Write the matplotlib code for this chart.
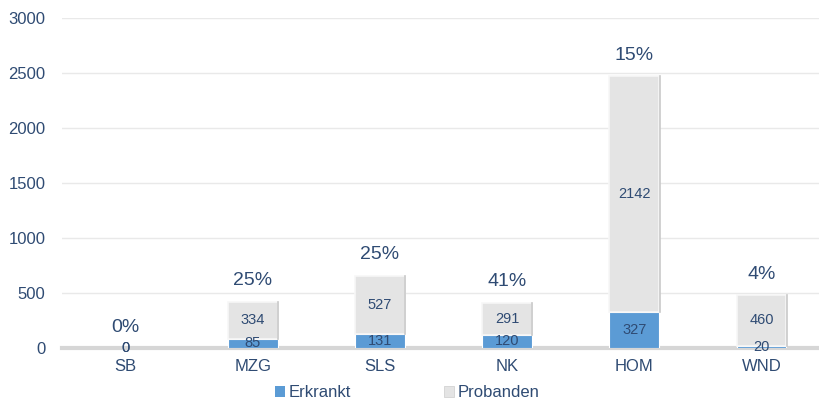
import numpy as np
from matplotlib import pyplot as plt
from matplotlib.patches import Patch

plt.rcParams["font.family"] = ["Liberation Sans", "DejaVu Sans"]

categories = ["SB", "MZG", "SLS", "NK", "HOM", "WND"]
erkrankt = [0, 85, 131, 120, 327, 20]
probanden = [0, 334, 527, 291, 2142, 460]
percent_labels = ["0%", "25%", "25%", "41%", "15%", "4%"]

TEXT = "#2f4b73"
BLUE = "#5b9bd5"
GRAY = "#e4e4e4"

fig = plt.figure(figsize=(8.2, 4.05), dpi=100)
ax = fig.add_axes([62 / 820, 57 / 405, 763 / 820, 330 / 405])

x = np.arange(len(categories))
width = 0.39

blue_bars = ax.bar(x, erkrankt, width, color=BLUE, edgecolor="white", linewidth=0.8, zorder=2)
gray_bars = ax.bar(x, probanden, width, bottom=erkrankt, color=GRAY, edgecolor="#f7f7f7",
                   linewidth=1.2, zorder=2)
# hide empty bars so no edge lines show at zero
for bar, v in zip(list(blue_bars) + list(gray_bars), erkrankt + probanden):
    if v == 0:
        bar.set_visible(False)
# faint shadow on the right edge of the grey segments
for xi, e, p in zip(x, erkrankt, probanden):
    if p > 0:
        ax.plot([xi + width / 2 + 0.004] * 2, [e, e + p], color="#c9c9c9", lw=1.2, zorder=3)

for xi, e, p, pct in zip(x, erkrankt, probanden, percent_labels):
    ax.text(xi, e / 2, str(e), ha="center", va="center", fontsize=10.5, color=TEXT, zorder=4)
    ax.text(xi, e + p / 2, str(p), ha="center", va="center", fontsize=10.5, color=TEXT, zorder=4)
    ax.text(xi, e + p + 150, pct, ha="center", va="baseline", fontsize=14, color=TEXT, zorder=4)

ax.set_xlim(-0.5, 5.5)
ax.set_ylim(0, 3000)
ax.set_yticks(np.arange(0, 3001, 500))
ax.set_xticks(x)
ax.set_xticklabels(categories)
ax.tick_params(axis="both", length=0, labelsize=12, labelcolor=TEXT)
ax.tick_params(axis="y", pad=12)
ax.tick_params(axis="x", pad=8)

ax.grid(axis="y", color="#e9e9e9", linewidth=1, zorder=0)
ax.set_axisbelow(True)
for side in ["top", "right", "left"]:
    ax.spines[side].set_visible(False)
ax.spines["bottom"].set_color("#d6d6d6")
ax.spines["bottom"].set_linewidth(3)
ax.spines["bottom"].set_zorder(1)

handles = [Patch(facecolor=BLUE, label="Erkrankt"),
           Patch(facecolor=GRAY, edgecolor="#cccccc", linewidth=0.5, label="Probanden")]
fig.legend(handles=handles, loc="center", bbox_to_anchor=(0.497, 0.03), ncol=2,
           frameon=False, fontsize=12, labelcolor=TEXT, handlelength=0.6,
           handleheight=0.6, handletextpad=0.2, columnspacing=5.6)

fig.savefig("out.png", dpi=100)
